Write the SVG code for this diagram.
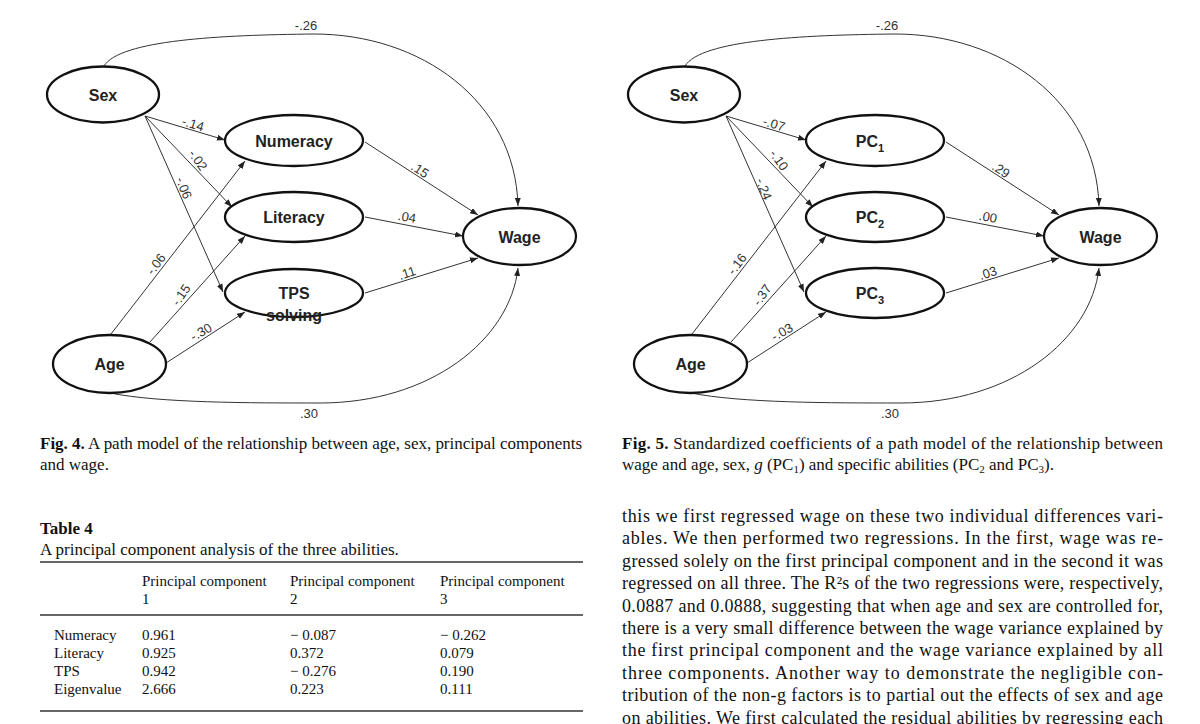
<svg xmlns="http://www.w3.org/2000/svg" width="1200" height="724" viewBox="0 0 1200 724">
<style>
.node ellipse{fill:#fff;stroke:#111;stroke-width:2.3}
.node text{font-family:"Liberation Sans",Arial,sans-serif;font-weight:bold;font-size:16px;fill:#222;text-anchor:middle}
.edge{fill:none;stroke:#333;stroke-width:1}
.arr{marker-end:url(#ah)}
.lab{font-family:"Liberation Sans",Arial,sans-serif;font-size:13px;fill:#333;text-anchor:middle}
.cap{font-family:"Liberation Serif","Times New Roman",serif;font-size:17px;fill:#111}
.tt{font-family:"Liberation Serif","Times New Roman",serif;font-size:17px;fill:#111}
.tb{font-family:"Liberation Serif","Times New Roman",serif;font-size:15px;fill:#111}
.body{font-family:"Liberation Serif","Times New Roman",serif;font-size:18px;fill:#111}
.rule{stroke:#333;stroke-width:1.3}
</style>
<defs>
<marker id="ah" markerUnits="userSpaceOnUse" markerWidth="9" markerHeight="7" refX="8" refY="3" orient="auto">
<path d="M0,0 L8,3 L0,6 z" fill="#222"/>
</marker>
</defs>

<g id="connectors">
<!-- left figure -->
<path class="edge arr" d="M104,66 C120,40 220,35 314,34 C420,34 515,100 518,206"/>
<path class="edge arr" d="M110,393 C160,403 250,403 320,403 C430,403 510,340 518,268"/>
<path class="edge arr" d="M145,116 L225,140"/>
<path class="edge arr" d="M145,116 L232,207"/>
<path class="edge arr" d="M145,116 L223,292"/>
<path class="edge arr" d="M111,334 L245,161"/>
<path class="edge arr" d="M150,342 L245,236"/>
<path class="edge arr" d="M166,363 L245,312"/>
<path class="edge arr" d="M365,142 L478,215"/>
<path class="edge arr" d="M365,217 L463,236"/>
<path class="edge arr" d="M365,293 L478,258"/>
<!-- right figure -->
<path class="edge arr" d="M685,66 C701,40 801,35 895,34 C1001,34 1096,100 1099,206"/>
<path class="edge arr" d="M691,393 C741,403 831,403 901,403 C1011,403 1091,340 1099,268"/>
<path class="edge arr" d="M726,116 L806,140"/>
<path class="edge arr" d="M726,116 L813,207"/>
<path class="edge arr" d="M726,116 L804,292"/>
<path class="edge arr" d="M692,334 L826,161"/>
<path class="edge arr" d="M731,342 L826,236"/>
<path class="edge arr" d="M747,363 L826,312"/>
<path class="edge arr" d="M946,142 L1059,215"/>
<path class="edge arr" d="M946,217 L1044,236"/>
<path class="edge arr" d="M946,293 L1059,258"/>
</g>

<g id="edge-labels">
<text class="lab" x="306" y="30">-.26</text>
<text class="lab" x="309" y="418">.30</text>
<text class="lab" transform="translate(193,124) rotate(17)" y="4.5">-.14</text>
<text class="lab" transform="translate(198,160) rotate(55)" y="4.5">-.02</text>
<text class="lab" transform="translate(184,188) rotate(68)" y="4.5">-.06</text>
<text class="lab" transform="translate(156,264) rotate(-53)" y="4.5">-.06</text>
<text class="lab" transform="translate(181,295) rotate(-55)" y="4.5">-.15</text>
<text class="lab" transform="translate(201,332) rotate(-30)" y="4.5">-.30</text>
<text class="lab" transform="translate(420,170) rotate(33)" y="4.5">.15</text>
<text class="lab" transform="translate(407,217) rotate(10)" y="4.5">.04</text>
<text class="lab" transform="translate(407,273) rotate(-18)" y="4.5">.11</text>

<text class="lab" x="887" y="30">-.26</text>
<text class="lab" x="890" y="418">.30</text>
<text class="lab" transform="translate(774,124) rotate(17)" y="4.5">-.07</text>
<text class="lab" transform="translate(779,160) rotate(55)" y="4.5">-.10</text>
<text class="lab" transform="translate(764,189) rotate(68)" y="4.5">-.24</text>
<text class="lab" transform="translate(737,264) rotate(-53)" y="4.5">-.16</text>
<text class="lab" transform="translate(762,295) rotate(-55)" y="4.5">-.37</text>
<text class="lab" transform="translate(782,332) rotate(-30)" y="4.5">-.03</text>
<text class="lab" transform="translate(1001,170) rotate(33)" y="4.5">.29</text>
<text class="lab" transform="translate(988,217) rotate(10)" y="4.5">.00</text>
<text class="lab" transform="translate(988,273) rotate(-18)" y="4.5">.03</text>
</g>

<!-- left nodes -->
<g id="sex4" class="node"><ellipse cx="103" cy="94.5" rx="56" ry="28"/><text x="103" y="101">Sex</text></g>
<g id="age4" class="node"><ellipse cx="109.5" cy="364" rx="56.5" ry="29"/><text x="109.5" y="370">Age</text></g>
<g id="numeracy" class="node"><ellipse cx="294" cy="140.5" rx="69" ry="25.5"/><text x="294" y="147">Numeracy</text></g>
<g id="literacy" class="node"><ellipse cx="294" cy="217" rx="69" ry="25"/><text x="294" y="223">Literacy</text></g>
<g id="tps" class="node"><ellipse cx="294" cy="293" rx="69" ry="24"/><text x="294" y="299">TPS</text><text x="294" y="321">solving</text></g>
<g id="wage4" class="node"><ellipse cx="519.5" cy="236.5" rx="56.5" ry="28.5"/><text x="519.5" y="243">Wage</text></g>

<!-- right nodes -->
<g id="sex5" class="node"><ellipse cx="684" cy="94.5" rx="56" ry="28"/><text x="684" y="101">Sex</text></g>
<g id="age5" class="node"><ellipse cx="690.5" cy="364" rx="56.5" ry="29"/><text x="690.5" y="370">Age</text></g>
<g id="pc1" class="node"><ellipse cx="875" cy="140.5" rx="69" ry="25.5"/><text x="870" y="147">PC<tspan font-size="11" dy="5">1</tspan></text></g>
<g id="pc2" class="node"><ellipse cx="875" cy="217" rx="69" ry="25"/><text x="870" y="223">PC<tspan font-size="11" dy="5">2</tspan></text></g>
<g id="pc3" class="node"><ellipse cx="875" cy="293" rx="69" ry="25"/><text x="870" y="299">PC<tspan font-size="11" dy="5">3</tspan></text></g>
<g id="wage5" class="node"><ellipse cx="1100.5" cy="236.5" rx="56.5" ry="28.5"/><text x="1100.5" y="243">Wage</text></g>

<!-- captions -->
<g id="captions">
<text class="cap" x="40" y="449" textLength="542" lengthAdjust="spacing"><tspan font-weight="bold">Fig. 4.</tspan> A path model of the relationship between age, sex, principal components</text>
<text class="cap" x="40" y="470">and wage.</text>
<text class="cap" x="622" y="449" textLength="541" lengthAdjust="spacing"><tspan font-weight="bold">Fig. 5.</tspan> Standardized coefficients of a path model of the relationship between</text>
<text class="cap" x="622" y="470">wage and age, sex, <tspan font-style="italic">g</tspan> (PC<tspan font-size="11" dy="3">1</tspan><tspan dy="-3">) and specific abilities (PC</tspan><tspan font-size="11" dy="3">2</tspan><tspan dy="-3"> and PC</tspan><tspan font-size="11" dy="3">3</tspan><tspan dy="-3">).</tspan></text>
</g>

<!-- table -->
<g id="table4">
<text class="tt" x="40" y="534" font-weight="bold">Table 4</text>
<text class="tt" x="40" y="555">A principal component analysis of the three abilities.</text>
<line class="rule" x1="40" y1="562" x2="583" y2="562"/>
<text class="tb" x="142" y="586">Principal component</text>
<text class="tb" x="142" y="604">1</text>
<text class="tb" x="290" y="586">Principal component</text>
<text class="tb" x="290" y="604">2</text>
<text class="tb" x="440" y="586">Principal component</text>
<text class="tb" x="440" y="604">3</text>
<line class="rule" x1="40" y1="615" x2="583" y2="615"/>
<text class="tb" x="54" y="640">Numeracy</text>
<text class="tb" x="142" y="640">0.961</text>
<text class="tb" x="290" y="640">− 0.087</text>
<text class="tb" x="440" y="640">− 0.262</text>
<text class="tb" x="54" y="658">Literacy</text>
<text class="tb" x="142" y="658">0.925</text>
<text class="tb" x="290" y="658">0.372</text>
<text class="tb" x="440" y="658">0.079</text>
<text class="tb" x="54" y="676">TPS</text>
<text class="tb" x="142" y="676">0.942</text>
<text class="tb" x="290" y="676">− 0.276</text>
<text class="tb" x="440" y="676">0.190</text>
<text class="tb" x="54" y="694">Eigenvalue</text>
<text class="tb" x="142" y="694">2.666</text>
<text class="tb" x="290" y="694">0.223</text>
<text class="tb" x="440" y="694">0.111</text>
<line class="rule" x1="40" y1="711" x2="583" y2="711"/>
</g>

<!-- body text -->
<g id="body">
<text class="body" x="622" y="522" textLength="541" lengthAdjust="spacing">this we first regressed wage on these two individual differences vari-</text>
<text class="body" x="622" y="544.4" textLength="541" lengthAdjust="spacing">ables. We then performed two regressions. In the first, wage was re-</text>
<text class="body" x="622" y="566.8" textLength="541" lengthAdjust="spacing">gressed solely on the first principal component and in the second it was</text>
<text class="body" x="622" y="589.2" textLength="541" lengthAdjust="spacing">regressed on all three. The R²s of the two regressions were, respectively,</text>
<text class="body" x="622" y="611.6" textLength="541" lengthAdjust="spacing">0.0887 and 0.0888, suggesting that when age and sex are controlled for,</text>
<text class="body" x="622" y="634" textLength="541" lengthAdjust="spacing">there is a very small difference between the wage variance explained by</text>
<text class="body" x="622" y="656.4" textLength="541" lengthAdjust="spacing">the first principal component and the wage variance explained by all</text>
<text class="body" x="622" y="678.8" textLength="541" lengthAdjust="spacing">three components. Another way to demonstrate the negligible con-</text>
<text class="body" x="622" y="701.2" textLength="541" lengthAdjust="spacing">tribution of the non-g factors is to partial out the effects of sex and age</text>
<text class="body" x="622" y="723.6" textLength="541" lengthAdjust="spacing">on abilities. We first calculated the residual abilities by regressing each</text>
</g>
</svg>
